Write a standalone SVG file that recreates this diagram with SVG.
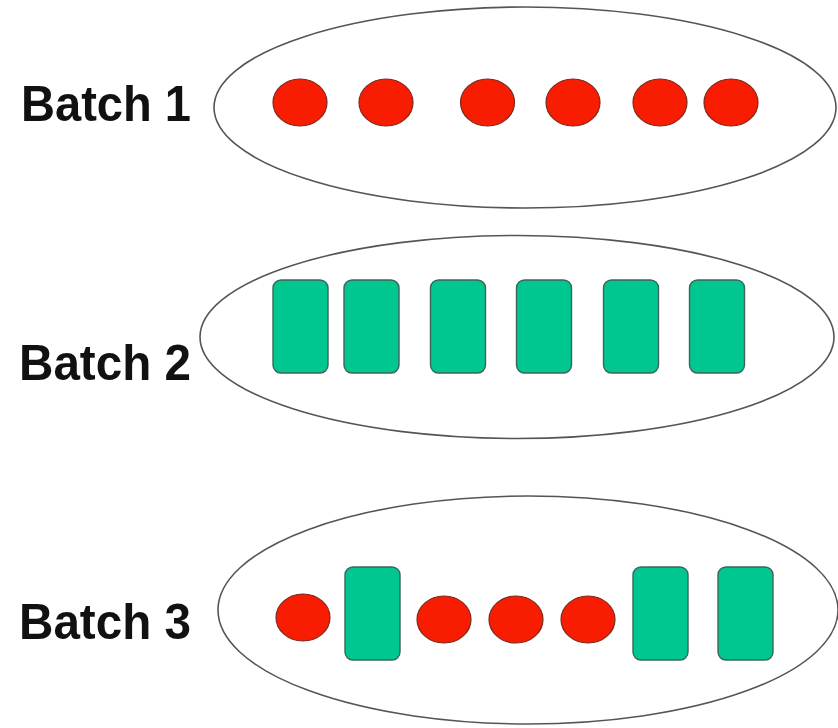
<svg xmlns="http://www.w3.org/2000/svg" width="838" height="728" viewBox="0 0 838 728">
<style>
.batch{fill:#ffffff;stroke:#555555;stroke-width:1.6}
.dot{fill:#f81c00;stroke:#7a2a20;stroke-width:1.2}
.box{fill:#00c690;stroke:#3d6658;stroke-width:1.4}
.lbl{font-family:"Liberation Sans",Arial,sans-serif;font-weight:bold;font-size:50px;fill:#111111}
</style>
<rect width="838" height="728" fill="#ffffff"/>
<g id="batch1">
<ellipse class="batch" cx="525" cy="107.5" rx="311" ry="100.5"/>
<text class="lbl" x="21" y="121" textLength="170" lengthAdjust="spacingAndGlyphs">Batch 1</text>
<ellipse class="dot" cx="300" cy="102.5" rx="27" ry="23.5"/>
<ellipse class="dot" cx="386" cy="102.5" rx="27" ry="23.5"/>
<ellipse class="dot" cx="487.5" cy="102.5" rx="27" ry="23.5"/>
<ellipse class="dot" cx="573" cy="102.5" rx="27" ry="23.5"/>
<ellipse class="dot" cx="660" cy="102.5" rx="27" ry="23.5"/>
<ellipse class="dot" cx="731" cy="102.5" rx="27" ry="23.5"/>
</g>
<g id="batch2">
<ellipse class="batch" cx="517" cy="337" rx="317" ry="101.5"/>
<text class="lbl" x="19" y="380" textLength="172" lengthAdjust="spacingAndGlyphs">Batch 2</text>
<rect class="box" x="273" y="280" width="55" height="93" rx="8"/>
<rect class="box" x="344" y="280" width="55" height="93" rx="8"/>
<rect class="box" x="430.5" y="280" width="55" height="93" rx="8"/>
<rect class="box" x="516.5" y="280" width="55" height="93" rx="8"/>
<rect class="box" x="603.5" y="280" width="55" height="93" rx="8"/>
<rect class="box" x="689.5" y="280" width="55" height="93" rx="8"/>
</g>
<g id="batch3">
<ellipse class="batch" cx="528" cy="610" rx="310" ry="114"/>
<text class="lbl" x="19" y="639" textLength="172" lengthAdjust="spacingAndGlyphs">Batch 3</text>
<ellipse class="dot" cx="303" cy="617.5" rx="27" ry="23.5"/>
<rect class="box" x="345" y="567" width="55" height="93" rx="8"/>
<ellipse class="dot" cx="444" cy="619.5" rx="27" ry="23.5"/>
<ellipse class="dot" cx="516" cy="619.5" rx="27" ry="23.5"/>
<ellipse class="dot" cx="588" cy="619.5" rx="27" ry="23.5"/>
<rect class="box" x="633" y="567" width="55" height="93" rx="8"/>
<rect class="box" x="718" y="567" width="55" height="93" rx="8"/>
</g>
<g id="connectors"/>
</svg>
